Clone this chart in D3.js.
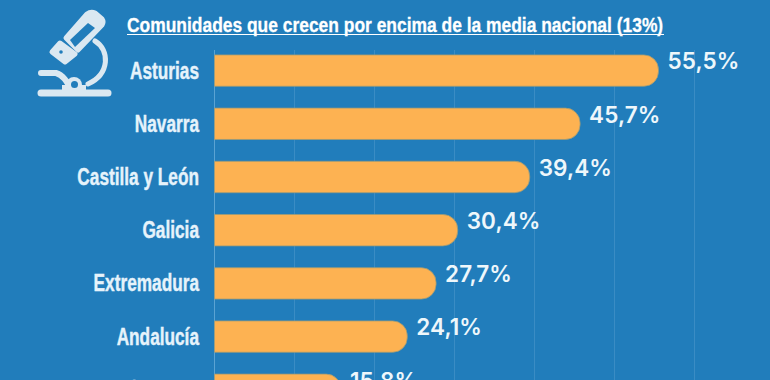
<!DOCTYPE html>
<html>
<head>
<meta charset="utf-8">
<script src="https://cdn.jsdelivr.net/npm/d3@7"></script>
<style>
body{margin:0;background:#217dbb;overflow:hidden}
svg{display:block}
.name{font-family:"Liberation Sans",sans-serif;font-weight:700;fill:#e6f3fb;stroke:#e6f3fb;stroke-width:0.4px;font-size:23px}
.val{font-family:Inter,sans-serif;font-weight:600;fill:#eef7fb;font-size:22.5px;letter-spacing:0.1px}
.title{font-family:"Liberation Sans",sans-serif;font-weight:700;fill:#fff;stroke:#fff;stroke-width:0.3px;font-size:21px}
</style>
</head>
<body>
<div id="chart"></div>
<script>
var w = 770;
var h = 380;

var categories = ["Asturias","Navarra","Castilla y León","Galicia","Extremadura","Andalucía","País Vasco"];
var values = [55.5,45.7,39.4,30.4,27.7,24.1,15.8];
var valueLabels = ["55,5%","45,7%","39,4%","30,4%","27,7%","24,1%","15,8%"];
var gridTicks = [0,10,20,30,40,50,60];
var titleText = "Comunidades que crecen por encima de la media nacional (13%)";

var svg = d3.select("#chart").append("svg").attr("width",w).attr("height",h);

var xScale = d3.scaleLinear().domain([0,60]).range([214.5,694.5]);
var yScale = d3.scaleBand().domain(categories).range([44,416.4]).paddingInner(0.41).paddingOuter(0.205);

// faint vertical grid
svg.selectAll("line.grid").data(gridTicks).enter().append("line")
    .attr("class","grid")
    .attr("x1",function(d){return xScale(d);})
    .attr("x2",function(d){return xScale(d);})
    .attr("y1",50).attr("y2",h)
    .attr("stroke",function(d){return d==0 ? "#5aa3d3" : "#3a8cc4";}).attr("stroke-width",1);

// bars, flat on the left and round on the right
function barPath(d,i){
    var x0 = xScale(0), x1 = xScale(d), y0 = yScale(categories[i]), bh = yScale.bandwidth(), r = bh*0.47;
    var p = d3.path();
    p.moveTo(x0,y0);
    p.lineTo(x1-r,y0);
    p.arcTo(x1,y0,x1,y0+r,r);
    p.lineTo(x1,y0+bh-r);
    p.arcTo(x1,y0+bh,x1-r,y0+bh,r);
    p.lineTo(x0,y0+bh);
    p.closePath();
    return p.toString();
}
svg.selectAll("path.bar").data(values).enter().append("path")
    .attr("class","bar")
    .attr("d",barPath)
    .attr("fill","#fdb252")
    .attr("stroke","#9b9a78").attr("stroke-width",0.8);

// no condensed font installed, so squeeze the bold one
svg.selectAll("text.name").data(categories).enter().append("text")
    .attr("class","name")
    .attr("transform",function(d){return "translate(199,"+(yScale(d)+yScale.bandwidth()/2+8)+") scale(0.75,1)";})
    .attr("text-anchor","end")
    .text(function(d){return d;});

svg.selectAll("text.val").data(values).enter().append("text")
    .attr("class","val")
    .attr("x",function(d){return xScale(d)+9;})
    .attr("y",function(d,i){return yScale(categories[i])+14.5;})
    .text(function(d,i){return valueLabels[i];});

svg.append("text")
    .attr("class","title")
    .attr("transform","translate(127,31.5) scale(0.83,1)")
    .text(titleText);
svg.append("line")
    .attr("x1",127).attr("x2",664)
    .attr("y1",34.5).attr("y2",34.5)
    .attr("stroke","#fff").attr("stroke-width",1);

// microscope icon
var iconColor = "#dbe8f1";
var bg = "#217dbb";
var icon = svg.append("g").attr("fill","none").attr("stroke",iconColor).attr("stroke-width",5).attr("stroke-linecap","round").attr("stroke-linejoin","round");
icon.append("path").attr("d","M95 41 C110 50 110 74 88 84");
icon.append("path").attr("d","M66 38 L87 14 Q91 11 95 13 L102 19 Q104 22 102 25 L78 50 Z").attr("fill",iconColor);
icon.append("path").attr("d","M70 40 L88 23 L95 28 L75 47 Z").attr("fill",bg).attr("stroke","none");
icon.append("path").attr("d","M52 52 L60 43 L75 54 L65 62 Z").attr("fill",iconColor);
icon.append("path").attr("d","M41 93 L108 93").attr("stroke-width",7);
icon.append("path").attr("d","M41 73 L56 73 C64 75 68 84 72 91").attr("stroke-width",6);
icon.append("circle").attr("cx",74).attr("cy",85).attr("r",8).attr("fill",iconColor).attr("stroke","none");
icon.append("rect").attr("x",62).attr("y",85).attr("width",24).attr("height",6).attr("fill",iconColor).attr("stroke","none");
icon.append("circle").attr("cx",74.5).attr("cy",84.5).attr("r",3.5).attr("fill",bg).attr("stroke","none");
icon.append("circle").attr("cx",61).attr("cy",52).attr("r",1.8).attr("fill",bg).attr("stroke","none");
</script>
</body>
</html>
